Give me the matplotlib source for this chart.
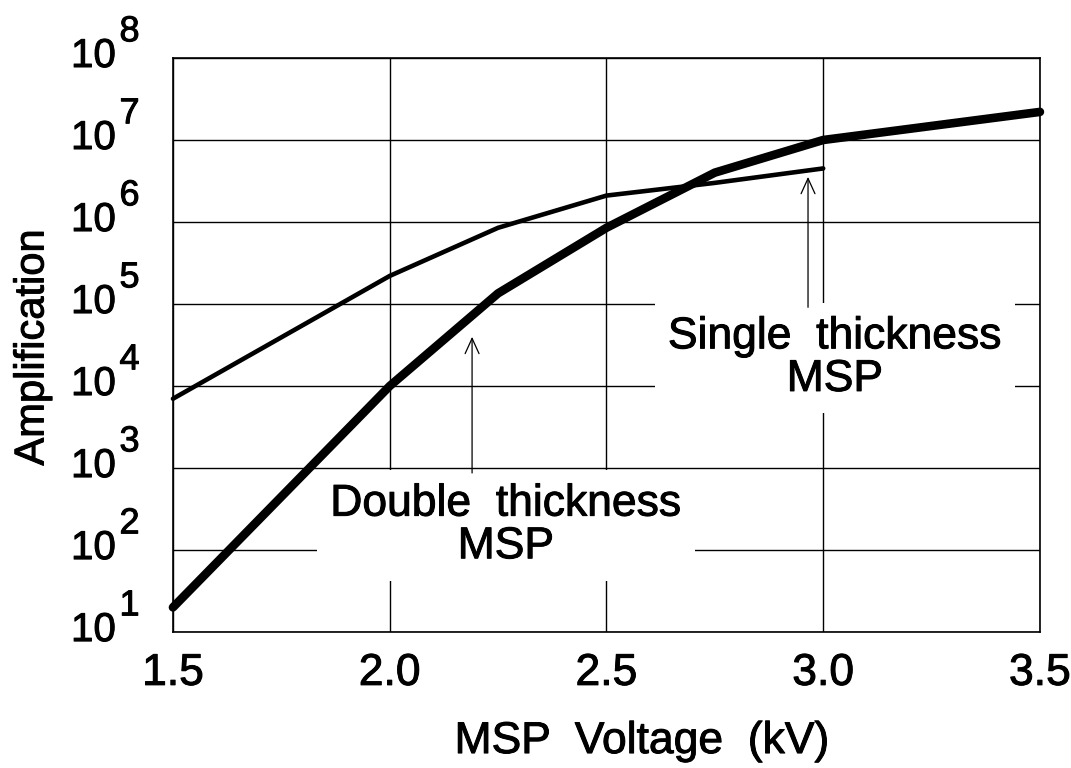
import numpy as np
import matplotlib
matplotlib.use('Agg')
import matplotlib.pyplot as plt
import matplotlib.patheffects as pe

plt.rcParams['font.family'] = ['Liberation Sans', 'DejaVu Sans']

# Data
single_kv = [1.5, 2.0, 2.25, 2.5, 2.75, 3.0]
single_amp = [7e3, 2.2e5, 8.5e5, 2.1e6, 3.0e6, 4.5e6]

double_kv = [1.5, 2.0, 2.25, 2.5, 2.75, 3.0, 3.5]
double_amp = [20, 1.0e4, 1.35e5, 8.5e5, 4.0e6, 1.0e7, 2.2e7]

x_ticks = [1.5, 2.0, 2.5, 3.0, 3.5]
x_labels = ['1.5', '2.0', '2.5', '3.0', '3.5']
y_ticks = [1e1, 1e2, 1e3, 1e4, 1e5, 1e6, 1e7, 1e8]
y_exponents = ['1', '2', '3', '4', '5', '6', '7', '8']

# slightly heavier text, like the scanned original
heavy = [pe.withStroke(linewidth=0.7, foreground='black')]

fig = plt.figure(figsize=(10.71, 7.68), dpi=100)
ax = fig.add_axes([0.1615, 0.177, 0.8095, 0.7475])

ax.plot(single_kv, single_amp, color='black', linewidth=3.3,
        solid_capstyle='round', solid_joinstyle='round', zorder=4, clip_on=False)
ax.plot(double_kv, double_amp, color='black', linewidth=6.2,
        solid_capstyle='round', solid_joinstyle='round', zorder=4, clip_on=False)

ax.set_yscale('log')
ax.set_xlim(1.5, 3.5)
ax.set_ylim(1e1, 1e8)
ax.set_xticks(x_ticks)
ax.set_xticklabels(x_labels, fontsize=32, path_effects=heavy)
ax.set_yticks(y_ticks)
ax.set_yticklabels([])
ax.minorticks_off()
ax.tick_params(axis='both', length=0)
ax.tick_params(axis='x', pad=15)

# y tick labels drawn as "10" plus a large exponent
for yt, ex in zip(y_ticks, y_exponents):
    ax.annotate('10', xy=(0, yt), xycoords=('axes fraction', 'data'),
                xytext=(-41, -6.5), textcoords='offset points',
                ha='right', va='baseline', fontsize=29, path_effects=heavy)
    ax.annotate(ex, xy=(0, yt), xycoords=('axes fraction', 'data'),
                xytext=(-38.5, 12), textcoords='offset points',
                ha='left', va='baseline', fontsize=26, path_effects=heavy)

ax.grid(True, color='black', linewidth=1.0, zorder=1)
ax.set_axisbelow(True)
for s in ax.spines.values():
    s.set_linewidth(1.2)

ax.set_xlabel('MSP  Voltage  (kV)', fontsize=32, path_effects=heavy)
ax.xaxis.set_label_coords(0.541, -0.155)
ax.set_ylabel('Amplification', fontsize=30, path_effects=heavy)
ax.yaxis.set_label_coords(-0.139, 0.495)

box = dict(boxstyle='square,pad=0.3', facecolor='white', edgecolor='none')
ax.text(3.027, 10**4.34, 'Single  thickness\nMSP', fontsize=32, ha='center',
        va='center', linespacing=1.05, bbox=box, zorder=3, path_effects=heavy)
ax.text(2.268, 10**2.30, 'Double  thickness\nMSP', fontsize=32, ha='center',
        va='center', linespacing=1.05, bbox=box, zorder=3, path_effects=heavy)

arrow = dict(arrowstyle='->,head_length=1.1,head_width=0.5', color='black',
             linewidth=0.9, shrinkA=0, shrinkB=0)
ax.annotate('', xy=(2.19, 10**4.6), xytext=(2.19, 10**2.94),
            arrowprops=arrow, zorder=5)
ax.annotate('', xy=(2.965, 10**6.55), xytext=(2.965, 10**4.96),
            arrowprops=arrow, zorder=5)

fig.savefig('out.png', dpi=100)
